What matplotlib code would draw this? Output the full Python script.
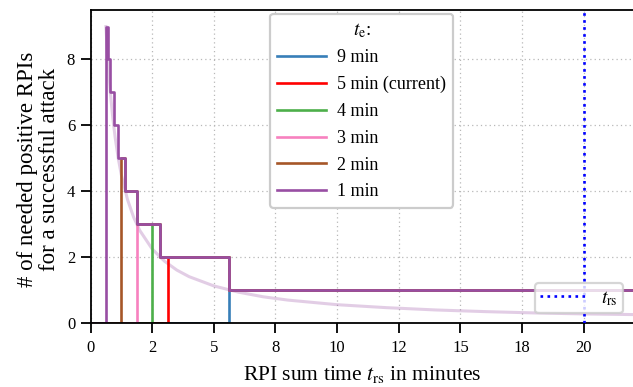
import numpy as np
import matplotlib
matplotlib.use("Agg")
import matplotlib.pyplot as plt
from matplotlib.lines import Line2D
from matplotlib.ticker import FixedLocator, FuncFormatter

plt.rcParams['font.family'] = ['Liberation Serif', 'DejaVu Serif']
plt.rcParams['mathtext.fontset'] = 'stix'

# exposure times and where each curve starts on the x axis
labels = ['9 min', '5 min (current)', '4 min', '3 min', '2 min', '1 min']
start_x = [5.625, 3.125, 2.5, 1.875, 1.25, 0.625]
colors = ['#377eb8', '#ff0000', '#4daf4a', '#f781bf', '#a65628', '#984ea3']

# shared staircase (needed RPIs vs sum time)
step_x = [0.625, 0.703, 0.804, 0.9375, 1.125, 1.406, 1.875, 2.8125, 5.625, 22.0]
step_y = [9, 8, 7, 6, 5, 4, 3, 2, 1, 1]

# faint reference curve
ref_x = [0.625, 0.7, 0.8, 0.9, 1.0, 1.125, 1.25, 1.5, 1.75, 2.0, 2.5, 3.0, 3.5,
         4.0, 5.0, 6.0, 7.0, 8.0, 10.0, 12.0, 14.0, 16.0, 18.0, 20.0, 22.0]
ref_y = [9.0, 8.04, 7.03, 6.25, 5.63, 5.0, 4.5, 3.75, 3.21, 2.81, 2.25, 1.88, 1.61,
         1.41, 1.13, 0.94, 0.80, 0.70, 0.56, 0.47, 0.40, 0.35, 0.31, 0.28, 0.26]

t_rs = 20
xticks = [0, 2.5, 5, 7.5, 10, 12.5, 15, 17.5, 20]

fig = plt.figure(figsize=(6.33, 3.87), dpi=100)
ax = fig.add_axes([0.143, 0.165, 0.857, 0.809])

ax.plot(ref_x, ref_y, color='#984ea3', alpha=0.28, lw=2.2, zorder=1)

handles = []
for sx, lab, c in zip(start_x, labels, colors):
    # level at the start point
    lvl = step_y[0]
    for bx, by in zip(step_x, step_y):
        if bx <= sx + 1e-9:
            lvl = by
    xs = [0, sx] + [bx for bx in step_x if bx > sx + 1e-9]
    ys = [0, lvl] + [by for bx, by in zip(step_x, step_y) if bx > sx + 1e-9]
    h, = ax.step(xs, ys, where='post', color=c, lw=1.9, label=lab, zorder=2)
    handles.append(h)

ax.axvline(t_rs, color='blue', ls=':', lw=1.9, zorder=3)

ax.set_xlim(0, 22)
ax.set_ylim(0, 9.5)
ax.xaxis.set_major_locator(FixedLocator(xticks))
ax.xaxis.set_major_formatter(FuncFormatter(lambda v, p: '{:.0f}'.format(v)))
ax.set_yticks([0, 2, 4, 6, 8])
ax.tick_params(direction='out', length=7, width=1.3, labelsize=12)
ax.tick_params(axis='x', pad=5)
ax.tick_params(axis='y', pad=4)
ax.grid(True, ls=(0, (1, 2.5)), color='#b8b8b8', lw=0.9)
ax.set_axisbelow(True)
for s in ['left', 'bottom', 'top']:
    ax.spines[s].set_linewidth(1.3)
ax.spines['right'].set_visible(False)

ax.set_xlabel('RPI sum time $t_\\mathrm{rs}$ in minutes', fontsize=15.5, labelpad=6)
ax.set_ylabel('# of needed positive RPIs\nfor a successful attack', fontsize=16.5,
              linespacing=1.05)
ax.yaxis.set_label_coords(-0.056, 0.49)

leg1 = ax.legend(handles=handles, loc='upper center', title='$t_\\mathrm{e}$:',
                 fontsize=13, title_fontsize=14, handlelength=2.7, handletextpad=0.6,
                 labelspacing=0.54, borderaxespad=0.2, framealpha=1,
                 edgecolor='#cccccc', fancybox=True)
leg1.get_frame().set_linewidth(1.6)
ax.add_artist(leg1)

rs_handle = Line2D([], [], color='blue', ls=':', lw=1.9)
leg2 = ax.legend(handles=[rs_handle], labels=['$t_\\mathrm{rs}$'], loc='lower right',
                 fontsize=14, handlelength=2.3, borderpad=0.3, edgecolor='#cccccc',
                 fancybox=True)
leg2.get_frame().set_linewidth(1.6)

fig.savefig('out.png', dpi=100)
